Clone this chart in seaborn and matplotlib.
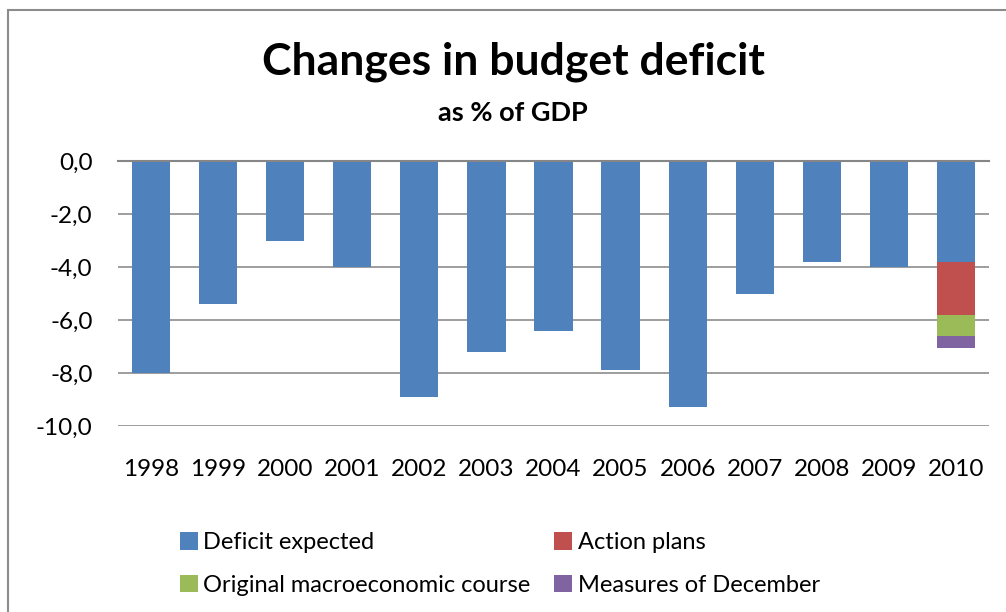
import numpy as np
import pandas as pd
import matplotlib
matplotlib.use("Agg")
import matplotlib.pyplot as plt
import seaborn as sns
from matplotlib.patches import Patch, Rectangle

# --------------------------
# DATA
# --------------------------
years = ["1998", "1999", "2000", "2001", "2002", "2003", "2004",
         "2005", "2006", "2007", "2008", "2009", "2010"]
deficit_expected = [-8.0, -5.4, -3.0, -4.0, -8.9, -7.2, -6.4, -7.9, -9.3, -5.0, -3.8, -4.0, -3.8]
action_plans = [0, 0, 0, 0, 0, 0, 0, 0, 0, 0, 0, 0, -2.0]
macro_course = [0, 0, 0, 0, 0, 0, 0, 0, 0, 0, 0, 0, -0.8]
december_measures = [0, 0, 0, 0, 0, 0, 0, 0, 0, 0, 0, 0, -0.45]

series_names = ["Deficit expected", "Action plans",
                "Original macroeconomic course", "Measures of December"]
colors = ["#4F81BD", "#C0504D", "#9BBB59", "#8064A2"]

# cumulative totals for stacking (drawn from deepest to front)
df = pd.DataFrame({"year": years})
df["s1"] = deficit_expected
df["s2"] = df["s1"] + np.array(action_plans)
df["s3"] = df["s2"] + np.array(macro_course)
df["s4"] = df["s3"] + np.array(december_measures)

# --------------------------
# PLOT
# --------------------------
sns.set_style("white")
plt.rcParams["font.family"] = ["Lato", "DejaVu Sans"]
plt.rcParams["text.color"] = "black"
plt.rcParams["xtick.color"] = "black"
plt.rcParams["ytick.color"] = "black"

fig = plt.figure(figsize=(10.06, 6.12), dpi=100)
ax = fig.add_axes([117.5 / 1006, 1 - 426 / 612, 872 / 1006, 265 / 612])

for col, c in zip(["s4", "s3", "s2", "s1"], colors[::-1]):
    sns.barplot(data=df, x="year", y=col, color=c, width=0.57,
                linewidth=0, saturation=1, ax=ax)

ax.set_ylim(-10, 0)
ax.set_xlim(-0.5, len(years) - 0.5)
ax.set_yticks([0, -2, -4, -6, -8, -10])
ax.set_yticklabels(["0,0", "-2,0", "-4,0", "-6,0", "-8,0", "-10,0"])
ax.set_xlabel("")
ax.set_ylabel("")
ax.yaxis.grid(True, color="#8C8C8C", linewidth=1.2)
ax.set_axisbelow(True)
for s in ["left", "right", "bottom"]:
    ax.spines[s].set_visible(False)
ax.spines["top"].set_visible(True)
ax.spines["top"].set_color("#868686")
ax.spines["top"].set_linewidth(1.5)
ax.spines["top"].set_zorder(5)
ax.tick_params(axis="y", length=0, pad=18, labelsize=17.5)
ax.tick_params(axis="x", length=0, pad=23.5, labelsize=17.5)

fig.text(0.51, 1 - 62 / 612, "Changes in budget deficit", ha="center", va="center",
         fontsize=32, fontweight="bold")
fig.text(0.51, 1 - 113 / 612, "as % of GDP", ha="center", va="center",
         fontsize=19.5, fontweight="bold")

# legend filled column-wise, so order gives rows: Deficit/Action, Original/December
order = [0, 2, 1, 3]
handles = [Patch(facecolor=colors[i], edgecolor="none") for i in order]
labels = [series_names[i] for i in order]
fig.legend(handles, labels, loc="center", bbox_to_anchor=(0.497, 1 - 564 / 612),
           ncol=2, frameon=False, fontsize=17, handlelength=0.75, handleheight=0.75,
           handletextpad=0.25, columnspacing=1.0, labelspacing=0.9)

# outer chart frame
fig.patches.append(Rectangle((8 / 1006, -0.1), 1.2, 1 - 10 / 612 + 0.1,
                             transform=fig.transFigure, fill=False,
                             edgecolor="#8C8C8C", linewidth=1.5))

fig.savefig("out.png", dpi=100)
